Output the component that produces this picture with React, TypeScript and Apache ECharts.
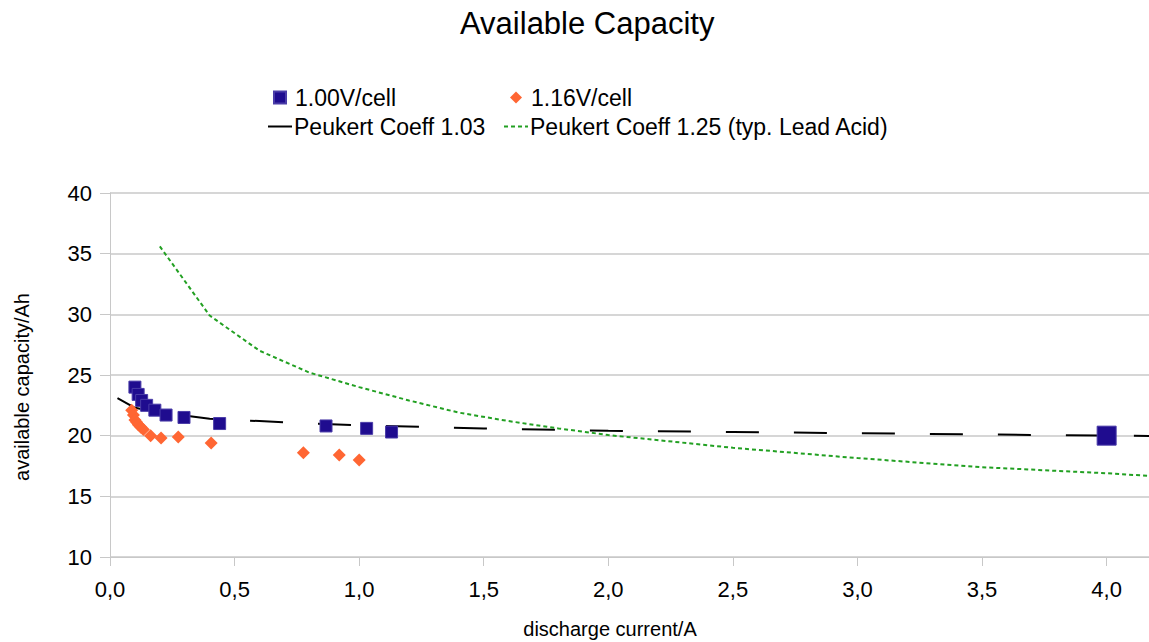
import React, { useEffect, useRef } from "react";
import * as echarts from "echarts";

const TITLE = "Available Capacity";
const X_NAME = "discharge current/A";
const Y_NAME = "available capacity/Ah";

const S100_NAME = "1.00V/cell";
const S116_NAME = "1.16V/cell";
const P103_NAME = "Peukert Coeff 1.03";
const P125_NAME = "Peukert Coeff 1.25 (typ. Lead Acid)";

const v100X = [0.1, 0.113, 0.127, 0.147, 0.18, 0.225, 0.297, 0.44, 0.867, 1.03, 1.13, 4.0];
const v100Y = [24.0, 23.4, 22.9, 22.5, 22.1, 21.7, 21.5, 21.0, 20.8, 20.6, 20.3, 20.0];

const v116X = [0.087, 0.094, 0.1, 0.107, 0.114, 0.124, 0.134, 0.163, 0.205, 0.274, 0.406, 0.776, 0.92, 1.0];
const v116Y = [22.1, 21.7, 21.3, 21.1, 20.9, 20.7, 20.5, 20.0, 19.8, 19.9, 19.4, 18.6, 18.4, 18.0];

const p103X = [0.03, 0.1, 0.2, 0.4, 0.6, 0.8, 1.0, 1.5, 2.0, 2.5, 3.0, 3.5, 4.0, 4.2];
const p103Y = [23.1, 22.3, 21.9, 21.4, 21.2, 21.0, 20.85, 20.6, 20.4, 20.3, 20.2, 20.1, 20.0, 19.97];

const p125X = [0.2, 0.4, 0.6, 0.8, 1.0, 1.2, 1.4, 1.6, 1.8, 2.0, 2.5, 3.0, 3.5, 4.0, 4.2];
const p125Y = [35.6, 29.9, 27.0, 25.2, 24.0, 22.9, 21.9, 21.2, 20.6, 20.05, 19.0, 18.15, 17.4, 16.9, 16.65];

const xTicks = [0, 0.5, 1.0, 1.5, 2.0, 2.5, 3.0, 3.5, 4.0];

const FONT = "'Liberation Sans', Arial, Helvetica, sans-serif";
const GRID_GREY = "#c8c8c8";

const zip = (xs: number[], ys: number[]) => xs.map((x, i) => [x, ys[i]]);

export default function App() {
  const ref = useRef<HTMLDivElement>(null);

  useEffect(() => {
    if (!ref.current) return;
    const chart = echarts.init(ref.current, null, { renderer: "svg" });

    const blueData = v100X.map((x, i) =>
      x >= 4 ? { value: [x, v100Y[i]], symbolSize: 19 } : { value: [x, v100Y[i]] }
    );

    const legendText = { fontSize: 23, color: "#000", fontFamily: FONT };
    const legendBase = {
      orient: "horizontal",
      selectedMode: false,
      padding: 0,
    };

    chart.setOption({
      animation: false,
      backgroundColor: "#fff",
      textStyle: { fontFamily: FONT },
      title: {
        text: TITLE,
        left: 460,
        top: 8,
        padding: 0,
        textStyle: { fontSize: 31, fontWeight: "normal", color: "#000", fontFamily: FONT },
      },
      legend: [
        { ...legendBase, data: [S100_NAME], left: 273, top: 86, itemWidth: 12, itemHeight: 12,
          textStyle: { ...legendText, padding: [0, 0, 0, 4] } },
        { ...legendBase, data: [S116_NAME], left: 510, top: 86, itemWidth: 12, itemHeight: 12,
          textStyle: { ...legendText, padding: [0, 0, 0, 4] } },
        { ...legendBase, data: [P103_NAME], left: 267, top: 115, itemWidth: 24, itemHeight: 10,
          itemStyle: { opacity: 0 }, textStyle: { ...legendText, padding: [0, 0, 0, -3] } },
        { ...legendBase, data: [P125_NAME], left: 503, top: 115, itemWidth: 24, itemHeight: 10,
          itemStyle: { opacity: 0 }, textStyle: { ...legendText, padding: [0, 0, 0, -3] } },
      ],
      grid: { left: 110, right: 0, top: 193, bottom: 85, containLabel: false },
      xAxis: {
        type: "value",
        min: 0,
        max: 4.17,
        interval: 0.5,
        axisLine: { show: true, lineStyle: { color: GRID_GREY, width: 1 } },
        axisTick: { show: true, length: 9, lineStyle: { color: GRID_GREY }, customValues: xTicks },
        axisLabel: {
          fontSize: 22,
          color: "#000",
          fontFamily: FONT,
          margin: 21,
          customValues: xTicks,
          formatter: (v: number) => v.toFixed(1).replace(".", ","),
        },
        splitLine: { show: false },
      },
      yAxis: {
        type: "value",
        min: 10,
        max: 40,
        interval: 5,
        axisLine: { show: true, lineStyle: { color: GRID_GREY, width: 1 } },
        axisTick: { show: true, length: 10, lineStyle: { color: GRID_GREY } },
        axisLabel: { fontSize: 22, color: "#000", fontFamily: FONT, margin: 18 },
        splitLine: { show: true, lineStyle: { color: GRID_GREY, width: 1.5 } },
      },
      graphic: [
        {
          type: "text",
          x: 610,
          y: 629,
          style: { text: X_NAME, fontSize: 20, fontFamily: FONT, fill: "#000", align: "center", verticalAlign: "middle" },
        },
        {
          type: "text",
          x: 22,
          y: 387,
          rotation: Math.PI / 2,
          style: { text: Y_NAME, fontSize: 20, fontFamily: FONT, fill: "#000", align: "center", verticalAlign: "middle" },
        },
      ],
      series: [
        {
          name: S100_NAME,
          type: "scatter",
          symbol: "rect",
          symbolSize: 12,
          z: 4,
          itemStyle: { color: "#1f0c8f", borderColor: "#4a3ca8", borderWidth: 1, opacity: 1 },
          emphasis: { disabled: true },
          data: blueData,
        },
        {
          name: S116_NAME,
          type: "scatter",
          symbol: "diamond",
          symbolSize: 13,
          z: 4,
          itemStyle: { color: "#ff6633", opacity: 1 },
          emphasis: { disabled: true },
          data: zip(v116X, v116Y),
        },
        {
          name: P103_NAME,
          type: "line",
          symbol: "none",
          showSymbol: false,
          smooth: false,
          z: 2,
          itemStyle: { color: "#000" },
          lineStyle: { color: "#000", width: 2, type: [33, 35] },
          emphasis: { disabled: true },
          data: zip(p103X, p103Y),
        },
        {
          name: P125_NAME,
          type: "line",
          symbol: "none",
          showSymbol: false,
          smooth: false,
          z: 2,
          itemStyle: { color: "#22a022" },
          lineStyle: { color: "#22a022", width: 2, type: [4, 3] },
          emphasis: { disabled: true },
          data: zip(p125X, p125Y),
        },
      ],
    });

    return () => chart.dispose();
  }, []);

  return (
    <div
      ref={ref}
      style={{ position: "fixed", left: 0, top: 0, width: 1149, height: 642, background: "#fff" }}
    />
  );
}
